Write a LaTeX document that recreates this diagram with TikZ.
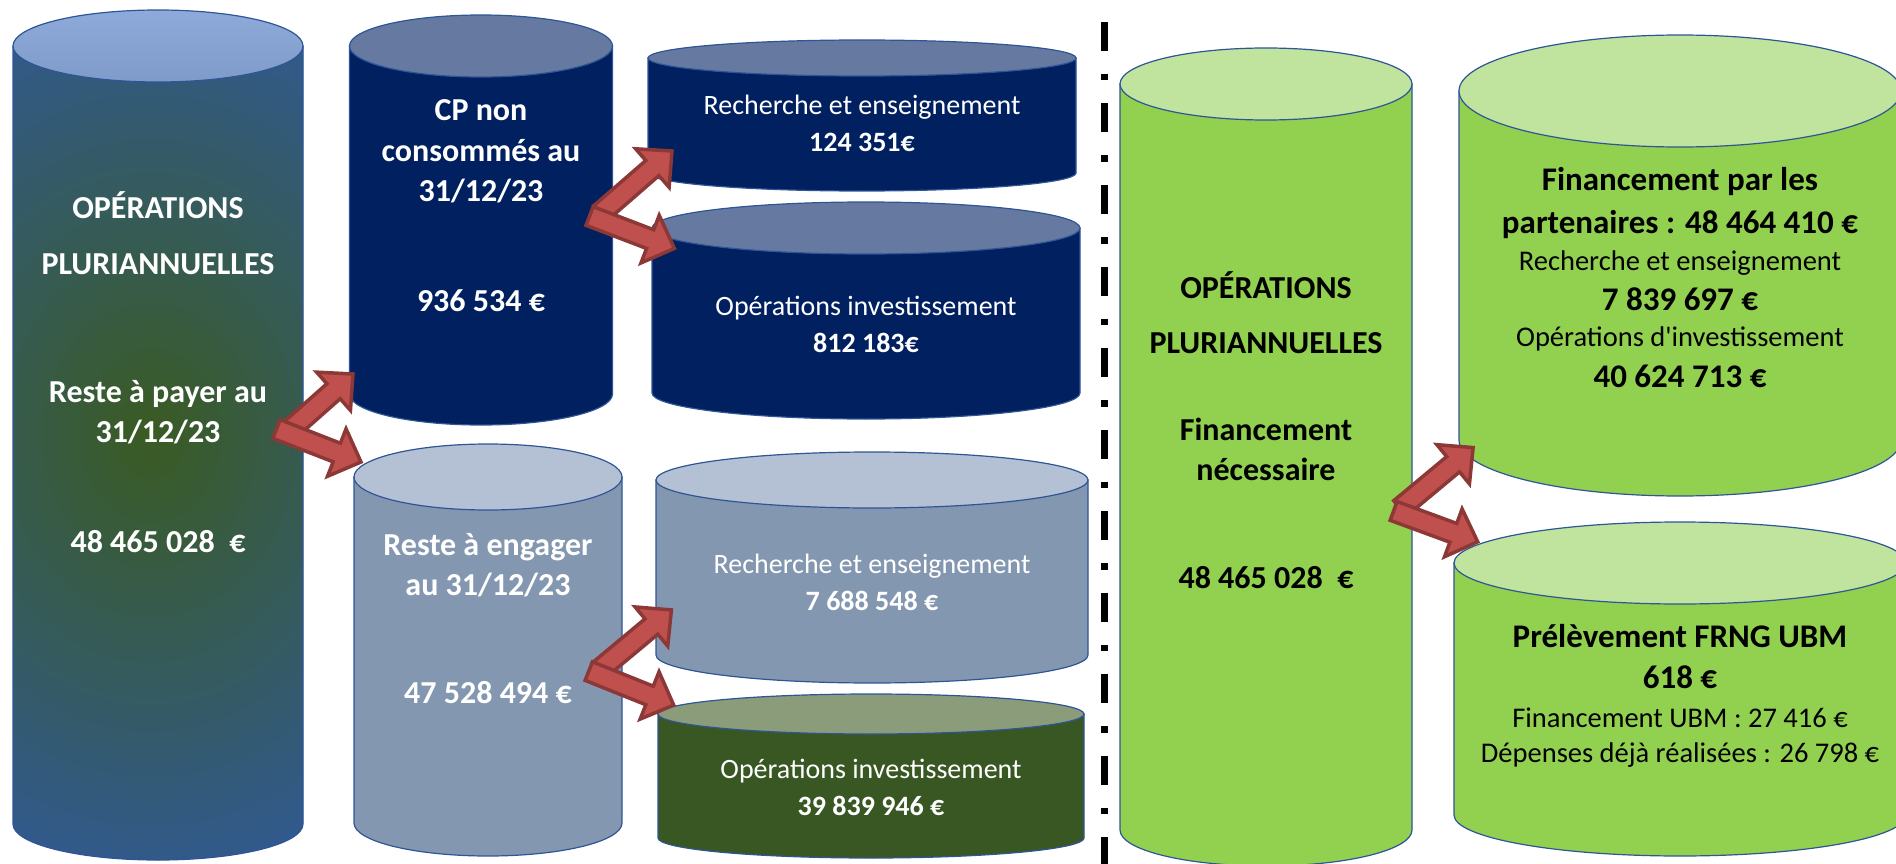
\documentclass[tikz,border=0pt]{standalone}
\usepackage{fontspec}
\setmainfont{Carlito}
\definecolor{navy01}{HTML}{002060}
\definecolor{navy02}{HTML}{6679A1}
\definecolor{grey01}{HTML}{8497B0}
\definecolor{grey02}{HTML}{B4C0D3}
\definecolor{moss01}{HTML}{385723}
\definecolor{moss02}{HTML}{8A9C79}
\definecolor{lime01}{HTML}{92D050}
\definecolor{lime02}{HTML}{C0E39D}
\definecolor{edge01}{HTML}{2F5597}
\definecolor{red01}{HTML}{C0504D}
\definecolor{red02}{HTML}{8C3836}
\definecolor{blue01}{HTML}{2F5AA6}
\definecolor{blue02}{HTML}{8EAADA}
\definecolor{blue03}{HTML}{7F9BC9}
\definecolor{green01}{HTML}{3A5B22}
\usepackage{tikz}
\usetikzlibrary{calc}
\tikzset{
    drumedge/.style={draw=edge01, line width=1.2pt},
    redarm/.style={fill=red01, draw=red02, line width=3.5pt, line join=miter},
    sep/.style={line width=7pt, dash pattern=on 29pt off 23pt on 6.5pt off 23pt},
    wtxt/.style={anchor=base, inner sep=0pt, text=white,
        font=\bfseries\fontsize{32}{41}\selectfont},
    btxt/.style={wtxt, text=black},
    wsub/.style={anchor=base, inner sep=0pt, text=white,
        font=\fontsize{28}{37}\selectfont},
    bsub/.style={anchor=base, inner sep=0pt, text=black,
        font=\fontsize{28.5}{39}\selectfont},
}
\newcommand{\txtstack}[1]{\begin{tabular}[t]{@{}c@{}}#1\end{tabular}}
\newcommand{\bigbf}{\bfseries\fontsize{33}{39}\selectfont}
% one arm of a block arrow: start, tip
\newcommand{\drawarm}[2]{%
    \path (#1) coordinate (ra) (#2) coordinate (rb) ($(rb)!26pt!(ra)$) coordinate (rh);
    \filldraw[redarm] ($(ra)!10pt!90:(rb)$) -- ($(rh)!10pt!-90:(ra)$) -- ($(rh)!25.5pt!-90:(ra)$)
        -- (rb) -- ($(rh)!25.5pt!90:(ra)$) -- ($(rh)!10pt!90:(ra)$) -- ($(ra)!10pt!-90:(rb)$) -- cycle;}

\begin{document}
\begin{tikzpicture}[x=1pt, y=1pt, yscale=-1]
    \useasboundingbox (0,0) rectangle (1896,864);

    % left column, shaded drum
    \begin{scope}
        \clip (13,46) -- (13,824) arc[start angle=180, end angle=0, x radius=145, y radius=36] -- (303,46) -- cycle;
        \fill[blue01] (0,0) rectangle (320,864);
        \shade[inner color=green01, outer color=blue01] (150,435) ellipse [x radius=440, y radius=540];
    \end{scope}
    \draw[drumedge] (13,46) -- (13,824) arc[start angle=180, end angle=0, x radius=145, y radius=36] -- (303,46);
    \shadedraw[drumedge, top color=blue02, bottom color=blue03] (158,46) ellipse [x radius=145, y radius=36];

    % the other drums
    \foreach \cx/\yt/\yb/\rx/\ry/\bodycol/\topcol in {
        481/46/394/131.5/31/navy01/navy02,
        488/477/823/134/33/grey01/grey02,
        862/58/173/214/18/navy01/navy02,
        866/228/393/214/26/navy01/navy02,
        872/480/655/216/28/grey01/grey02,
        871/714/838/213/20/moss01/moss02,
        1266/84/830/146/36/lime01/lime02,
        1680/91/440/221/56/lime01/lime02,
        1680/563/815/226/41/lime01/lime02}
    {
        \filldraw[drumedge, fill=\bodycol] (\cx-\rx,\yt) -- (\cx-\rx,\yb)
            arc[start angle=180, end angle=0, x radius=\rx, y radius=\ry] -- (\cx+\rx,\yt) -- cycle;
        \filldraw[drumedge, fill=\topcol] (\cx,\yt) ellipse [x radius=\rx, y radius=\ry];
    }

    \draw[sep] (1104,22) -- (1104,870);

    % texts
    \node[wtxt] (pluri) at (158,218) {\txtstack{OPÉRATIONS\\[15pt]PLURIANNUELLES\\[87pt]Reste à payer au\\31/12/23\\[69pt]48 465 028~~€}};
    \node[wtxt] (cpnc) at (481,121) {\txtstack{CP non\\consommés au\\[-1pt]31/12/23\\[69pt]936 534 €}};
    \node[wtxt] (raeng) at (488,555) {\txtstack{Reste à engager\\[-1pt]au 31/12/23\\[67pt]47 528 494 €}};
    \node[wsub] (recA) at (862,115) {\txtstack{Recherche et enseignement\\\textbf{124 351€}}};
    \node[wsub] (opiA) at (866,315) {\txtstack{Opérations investissement\\\textbf{812 183€}}};
    \node[wsub] (recB) at (872,573) {\txtstack{Recherche et enseignement\\\textbf{7 688 548 €}}};
    \node[wsub] (opiB) at (871,778) {\txtstack{Opérations investissement\\\textbf{39 839 946 €}}};
    \node[btxt] (finnec) at (1266,298) {\txtstack{OPÉRATIONS\\[14pt]PLURIANNUELLES\\[46pt]Financement\\[-1pt]nécessaire\\[67pt]48 465 028~~€}};
    \node[bsub] (partn) at (1680,190) {\txtstack{\bigbf Financement par les\\[4pt]\bigbf partenaires : 48 464 410 €\\[-2pt]Recherche et enseignement\\[1pt]\bigbf 7 839 697 €\\[-2pt]Opérations d\textquotesingle investissement\\[2pt]\bigbf 40 624 713 €}};
    \node[bsub] (frng) at (1680,647) {\txtstack{\bigbf Prélèvement FRNG UBM\\[2pt]\bigbf 618 €\\Financement UBM : 27 416 €\\[-4pt]Dépenses déjà réalisées : 26 798 €}};

    % split arrows
    \coordinate (pluri-up) at (283,436);
    \coordinate (pluri-dn) at (276.5,429);
    \coordinate (cpnc-in) at (353,374);
    \coordinate (raeng-in) at (361,462);
    \coordinate (cpnc-up) at (600.3,213.3);
    \coordinate (cpnc-dn) at (589.6,216);
    \coordinate (recA-in) at (672,151);
    \coordinate (opiA-in) at (674.4,248.4);
    \coordinate (raeng-up) at (598.4,670.7);
    \coordinate (raeng-dn) at (588.8,671.1);
    \coordinate (recB-in) at (671.4,609.9);
    \coordinate (opiB-in) at (673.7,705.1);
    \coordinate (finnec-up) at (1400.1,508.4);
    \coordinate (finnec-dn) at (1393.6,510.9);
    \coordinate (partn-in) at (1473.1,447.6);
    \coordinate (frng-in) at (1477.7,541.8);
    \drawarm{pluri-up}{cpnc-in}
    \drawarm{pluri-dn}{raeng-in}
    \drawarm{cpnc-up}{recA-in}
    \drawarm{cpnc-dn}{opiA-in}
    \drawarm{raeng-up}{recB-in}
    \drawarm{raeng-dn}{opiB-in}
    \drawarm{finnec-up}{partn-in}
    \drawarm{finnec-dn}{frng-in}
\end{tikzpicture}
\end{document}
